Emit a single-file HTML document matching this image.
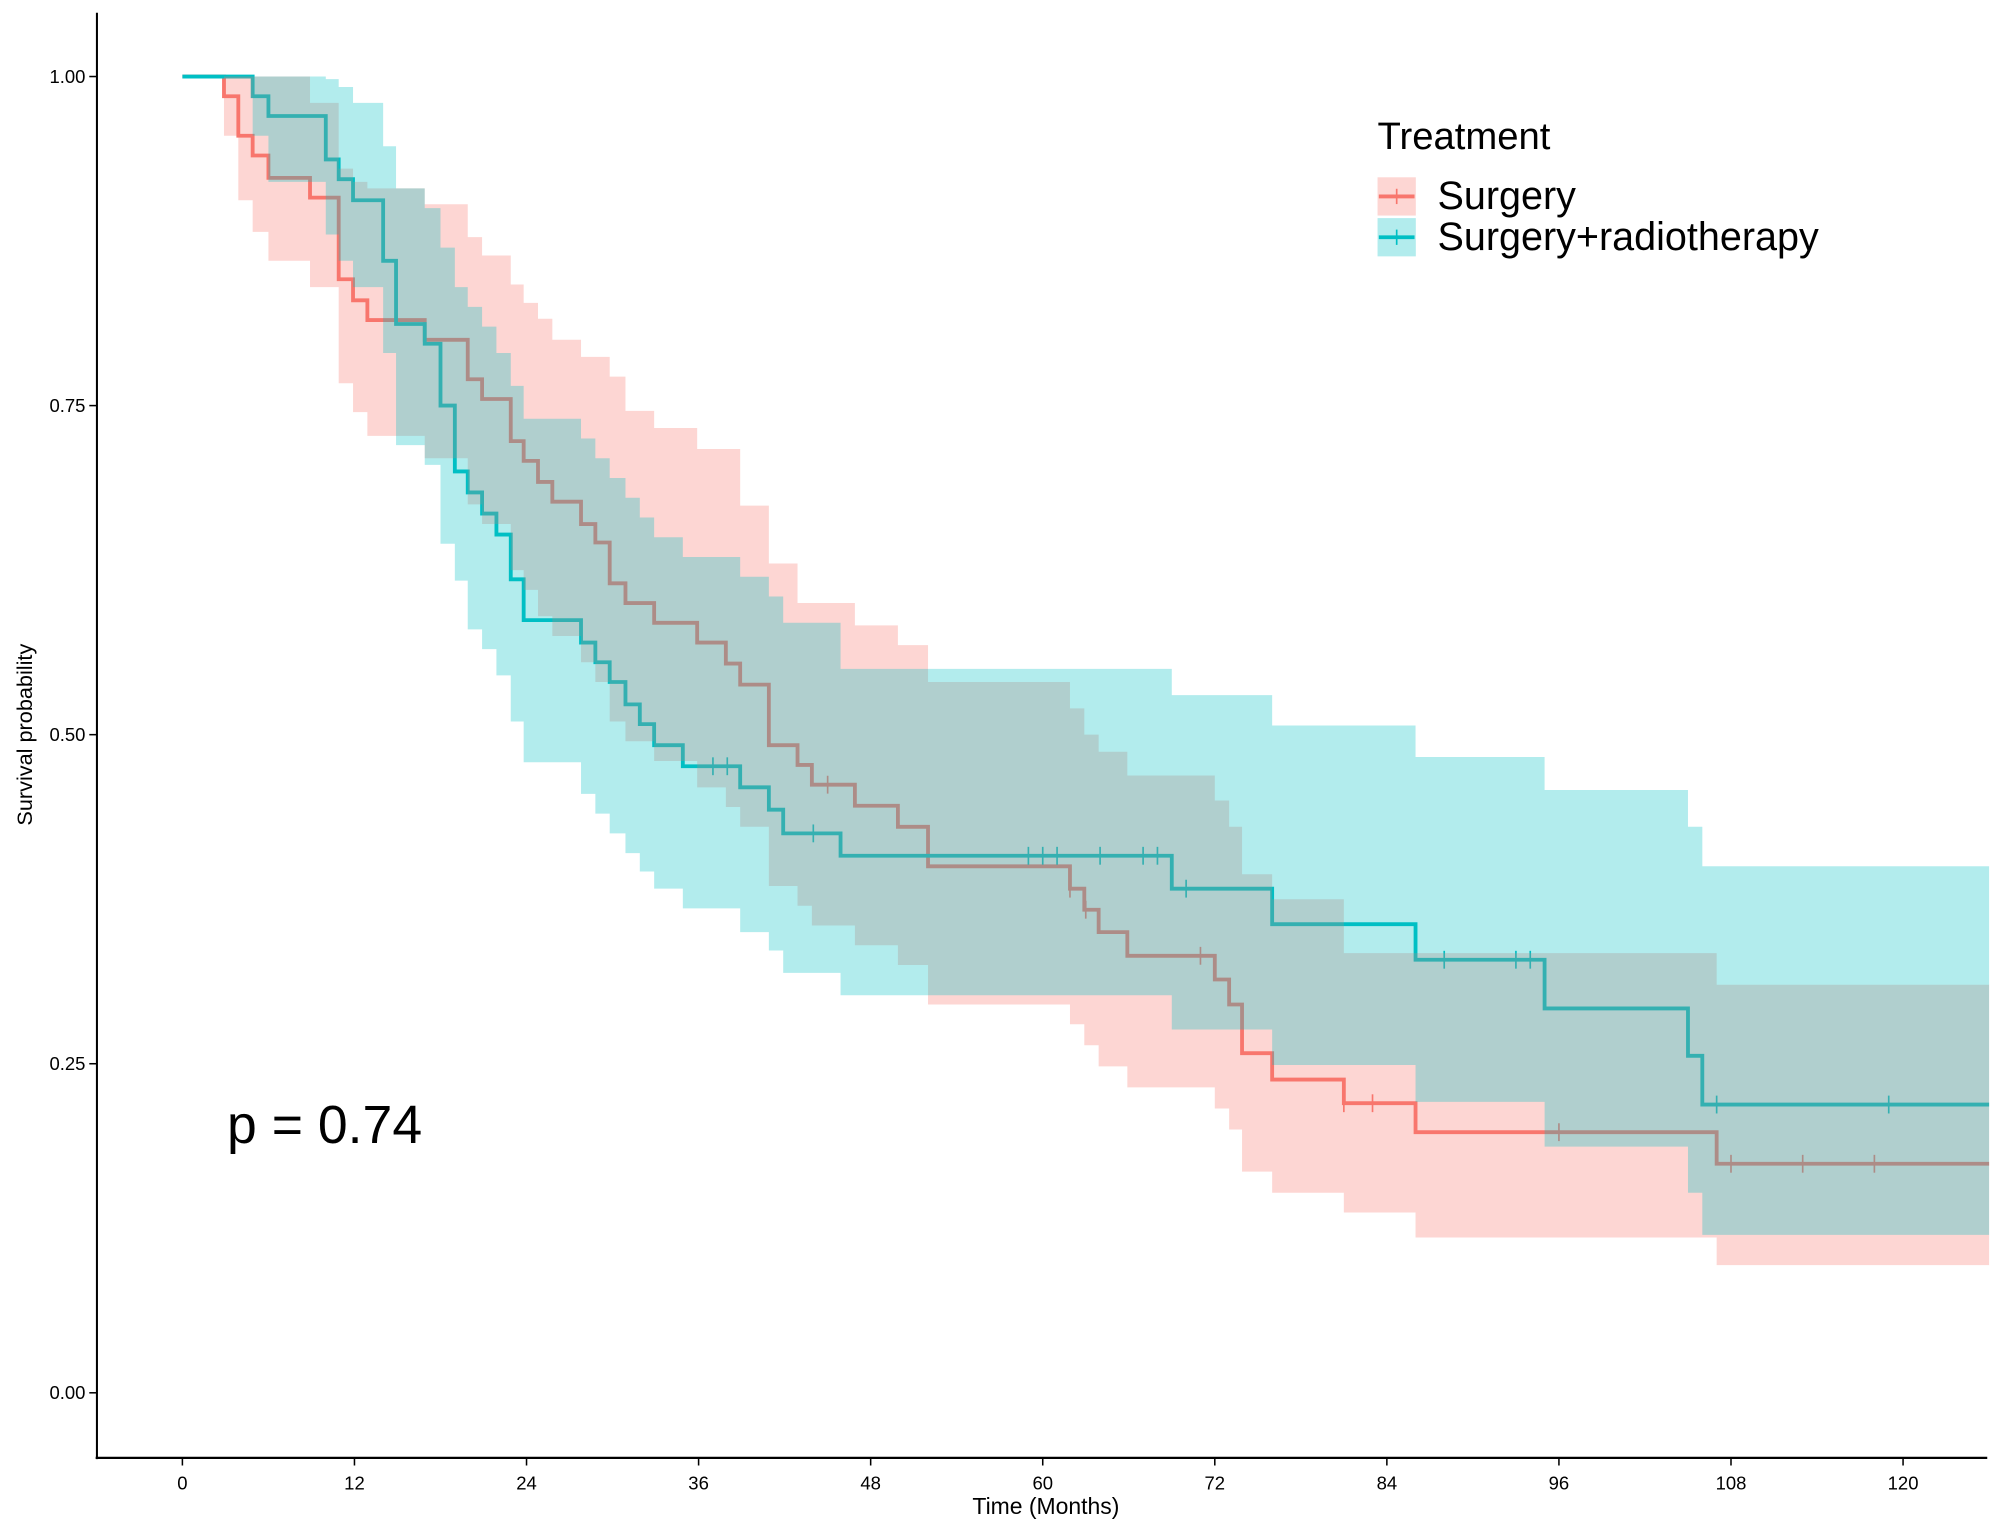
<!DOCTYPE html>
<html><head><meta charset="utf-8"><style>
html,body{margin:0;padding:0;background:#fff}
svg{display:block}
text{font-family:"Liberation Sans",sans-serif}
</style></head><body>
<svg id="chart" width="2000" height="1528" viewBox="0 0 1568 1198" preserveAspectRatio="none" xmlns="http://www.w3.org/2000/svg">
<g id="bands"></g><g id="lines"></g><g id="ribbons"></g><g id="axes"></g>
</svg>
<script>
// Surgery
const surgTime=[0,2.9,3.9,4.9,6,8.9,10.9,11.9,12.9,16.9,19.9,20.9,22.9,23.8,24.8,25.8,27.8,28.8,29.8,30.9,32.9,35.9,37.9,38.9,40.9,42.9,43.9,46.9,49.9,52,61.9,62.9,63.9,65.9,72,73,73.9,76,81,86,107];
const surgSurv=[1,.985,.955,.94,.923,.908,.846,.83,.815,.80,.77,.755,.723,.708,.692,.677,.66,.646,.615,.60,.585,.57,.554,.538,.492,.477,.462,.446,.43,.40,.383,.367,.35,.332,.314,.295,.258,.238,.22,.198,.174];
const surgUpper=[1,1,1,1,1,.98,.93,.92,.915,.903,.878,.864,.842,.828,.816,.80,.787,.787,.772,.746,.733,.717,.717,.674,.63,.60,.60,.583,.568,.54,.52,.50,.487,.469,.45,.43,.394,.375,.334,.334,.31];
const surgLower=[1,.955,.906,.882,.86,.84,.767,.745,.727,.71,.675,.66,.625,.61,.59,.575,.555,.54,.51,.495,.48,.46,.445,.43,.385,.37,.355,.34,.325,.295,.28,.264,.248,.232,.216,.2,.168,.152,.137,.118,.097];
const surgCensor=[45,61.9,63,71,81,83,96,108,113,118];
// Surgery+radiotherapy
const radTime=[0,4.9,6,10,10.9,11.9,14,14.9,16.9,18,19,19.9,20.9,21.9,22.9,23.8,27.8,28.8,29.8,30.9,31.9,32.9,34.9,38.9,40.9,41.9,45.9,69,76,86,95,105,106];
const radSurv=[1,.985,.97,.937,.922,.906,.86,.812,.797,.75,.70,.684,.668,.652,.618,.587,.57,.555,.54,.523,.508,.492,.476,.46,.443,.425,.408,.383,.356,.329,.292,.256,.219];
const radUpper=[1,1,1,.998,.992,.98,.947,.915,.9,.87,.84,.825,.81,.79,.765,.74,.725,.71,.695,.68,.665,.65,.635,.62,.605,.585,.55,.53,.507,.483,.458,.43,.40];
const radLower=[1,.955,.92,.88,.86,.84,.79,.72,.705,.645,.617,.58,.565,.545,.51,.479,.455,.44,.425,.41,.396,.383,.368,.35,.336,.319,.302,.276,.249,.221,.187,.152,.12];
const radCensor=[37,38,44,59,60,61,64,67,68,70,88,93,94,107,119];
const xTicks=[0,12,24,36,48,60,72,84,96,108,120];
const yTicks=[0,0.25,0.5,0.75,1];
const yTickLabels=["0.00","0.25","0.50","0.75","1.00"];
const tMax=126;

const NS="http://www.w3.org/2000/svg";
const X=t=>143+t*(1492-143)/120;
const Y=s=>1092-s*1032;
function mk(tag,attrs,parent){const e=document.createElementNS(NS,tag);for(const k in attrs)e.setAttribute(k,attrs[k]);parent.appendChild(e);return e;}
function stepPath(times,vals){let d="M"+X(times[0])+","+Y(vals[0]);for(let i=1;i<times.length;i++){d+="H"+X(times[i])+"V"+Y(vals[i]);}d+="H"+X(tMax);return d;}
function bandPath(times,up,lo){let d="M"+X(times[0])+","+Y(up[0]);for(let i=1;i<times.length;i++){d+="H"+X(times[i])+"V"+Y(up[i]);}d+="H"+X(tMax)+"V"+Y(lo[lo.length-1]);for(let i=times.length-1;i>=1;i--){d+="H"+X(times[i])+"V"+Y(lo[i-1]);}d+="H"+X(times[0])+"Z";return d;}
function stepAt(times,vals,t){let v=vals[0];for(let i=0;i<times.length;i++){if(times[i]<=t)v=vals[i];}return v;}
const lines=document.getElementById('lines'),ribbons=document.getElementById('ribbons'),axes=document.getElementById('axes');
function series(times,surv,up,lo,cens,color,name){
  const l=mk('path',{d:stepPath(times,surv),fill:'none',stroke:color,'stroke-width':3},lines);
  
  
  cens.forEach(t=>{const y=Y(stepAt(times,surv,t));const c=mk('line',{x1:X(t),x2:X(t),y1:y-7,y2:y+7,stroke:color,'stroke-width':1.3},lines);
    
    });
  const b=mk('path',{d:bandPath(times,up,lo),fill:color,'fill-opacity':0.3,stroke:'none'},ribbons);
  
  
}
series(surgTime,surgSurv,surgUpper,surgLower,surgCensor,'#F8766D','surgery');
series(radTime,radSurv,radUpper,radLower,radCensor,'#00BFC4','radiotherapy');
// axes
let e=mk('line',{x1:76,x2:76,y1:10,y2:1144,stroke:'#000','stroke-width':1.6},axes);

e=mk('line',{x1:75,x2:1558,y1:1143,y2:1143,stroke:'#000','stroke-width':1.8},axes);

xTicks.forEach(t=>{mk('line',{x1:X(t),x2:X(t),y1:1143,y2:1149,stroke:'#000','stroke-width':1.2},axes);
  const tx=mk('text',{x:X(t),y:1168,'text-anchor':'middle','font-size':14.5,fill:'#000'},axes);tx.textContent=t;
  
  });
yTicks.forEach((v,i)=>{mk('line',{x1:70,x2:76,y1:Y(v),y2:Y(v),stroke:'#000','stroke-width':1.2},axes);
  const tx=mk('text',{x:67,y:Y(v)+5,'text-anchor':'end','font-size':14.5,fill:'#000'},axes);tx.textContent=yTickLabels[i];
  
  });
e=mk('text',{x:820,y:1187,'text-anchor':'middle','font-size':18,fill:'#000'},axes);e.textContent='Time (Months)';

e=mk('text',{x:0,y:0,'text-anchor':'middle','font-size':17,fill:'#000',transform:'translate(25,576) rotate(-90)'},axes);e.textContent='Survival probability';

e=mk('text',{x:178,y:896,'font-size':42,fill:'#000'},axes);e.textContent='p = 0.74';

// legend
e=mk('text',{x:1080,y:117,'font-size':30,fill:'#000'},axes);e.textContent='Treatment';

[['Surgery','#F8766D',139],['Surgery+radiotherapy','#00BFC4',171]].forEach(([lab,c,y])=>{
  const g=mk('g',{},axes);
  
  
  mk('rect',{x:1080,y:y,width:30,height:30,fill:c,'fill-opacity':0.3},g);
  mk('line',{x1:1081,x2:1109,y1:y+15,y2:y+15,stroke:c,'stroke-width':3},g);
  mk('line',{x1:1095,x2:1095,y1:y+9,y2:y+21,stroke:c,'stroke-width':1.3},g);
  const t=mk('text',{x:1127,y:y+25,'font-size':31,fill:'#000'},g);t.textContent=lab;
});
</script>
</body></html>
